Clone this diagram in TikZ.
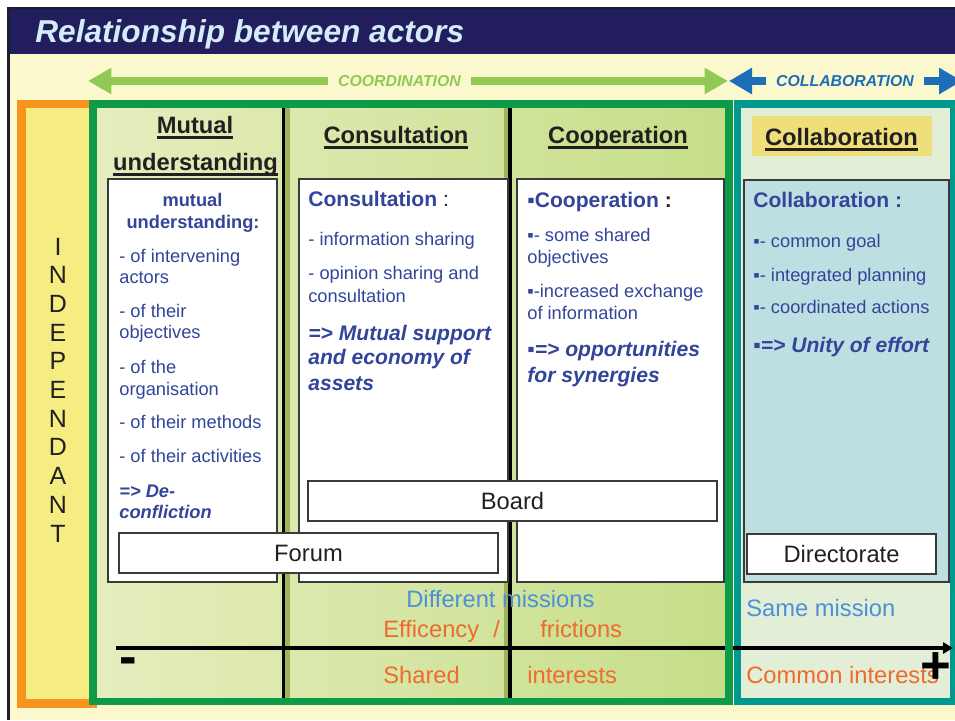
\documentclass[tikz,border=0pt]{standalone}
\usepackage{fontspec}
\setmainfont{Liberation Sans}
\usetikzlibrary{arrows.meta}

\definecolor{slideedge}{HTML}{1E1E2A}
\definecolor{navy}{HTML}{221E5E}
\definecolor{titletxt}{HTML}{D3ECF7}
\definecolor{cream}{HTML}{FBF8CE}
\definecolor{coordgreen}{HTML}{92C954}
\definecolor{collabblue}{HTML}{1D6EB9}
\definecolor{indorange}{HTML}{F7941E}
\definecolor{indyellow}{HTML}{F5ED82}
\definecolor{framegreen}{HTML}{0E9A49}
\definecolor{framelight}{HTML}{E6EDBE}
\definecolor{framedeep}{HTML}{C5DE88}
\definecolor{sepband}{HTML}{9DB35C}
\definecolor{collabteal}{HTML}{00988F}
\definecolor{collabpale}{HTML}{E2EED6}
\definecolor{bluebox}{HTML}{BDDFE1}
\definecolor{hdyellow}{HTML}{EEDF7B}
\definecolor{hdtxt}{HTML}{231F20}
\definecolor{boxedge}{HTML}{3A3A3A}
\definecolor{txtblue}{HTML}{33459A}
\definecolor{missionblue}{HTML}{4B90D8}
\definecolor{interestorange}{HTML}{F06A2C}

% underline at a fixed depth below the baseline
\newcommand\headul[1]{\setbox0\hbox{#1}\rlap{\rule[-3.4pt]{\wd0}{1.6pt}}\box0}

\tikzset{
  heading/.style={anchor=base, inner sep=0, text=hdtxt,
    font=\fontsize{13.5}{16}\selectfont\bfseries},
  bandlbl/.style={inner xsep=0.2cm, inner ysep=0,
    font=\fontsize{9}{11}\selectfont\bfseries\itshape},
  coordarr/.style={coordgreen, line width=4.5pt,
    -{Triangle[length=0.47cm,width=0.5cm]}},
  collabarr/.style={collabblue, line width=4.5pt,
    -{Triangle[length=0.46cm,width=0.5cm]}},
  indletter/.style={anchor=base, inner sep=0, text=hdtxt,
    font=\fontsize{14.2}{16}\selectfont},
  panel/.style={draw=boxedge, line width=0.6pt, fill=white},
  bodytxt/.style={anchor=base west, inner sep=0, text=txtblue,
    font=\fontsize{10.4}{12}\selectfont},
  boxhead/.style={bodytxt, font=\fontsize{12}{14}\selectfont\bfseries},
  punch/.style={bodytxt, font=\fontsize{12}{14}\selectfont\bfseries\itshape},
  lblbox/.style={draw=boxedge, line width=0.8pt, fill=white, inner sep=0,
    minimum height=0.8cm, text=hdtxt, font=\fontsize{13.5}{16}\selectfont},
  bottomtxt/.style={anchor=base west, inner sep=0,
    font=\fontsize{13.5}{16}\selectfont},
  axisline/.style={line width=2.2pt, -{Triangle[length=0.2cm,width=0.22cm]}},
  sign/.style={anchor=base, inner sep=0, font=\fontsize{30}{30}\selectfont\bfseries},
}

\begin{document}
\begin{tikzpicture}[x=0.02cm,y=-0.02cm]
\clip (0,0) rectangle (955,720);
\fill[white] (0,0) rectangle (955,720);
\fill[slideedge] (7,7) rectangle (955,720);
\fill[navy] (10,9) rectangle (955,54);
\fill[cream] (10,54) rectangle (955,720);
\node[anchor=base west, inner sep=0, text=titletxt,
  font=\fontsize{18}{22}\selectfont\bfseries\itshape] (title) at (35,42)
  {Relationship between actors};

% coordination / collaboration band
\coordinate (coordL) at (88,81);
\coordinate (coordR) at (728,81);
\node[bandlbl, text=coordgreen] (coordlbl) at (399.5,81) {COORDINATION};
\draw[coordarr] (coordlbl.west) -- (coordL);
\draw[coordarr] (coordlbl.east) -- (coordR);
\coordinate (collabL) at (729,81);
\coordinate (collabR) at (962,81);
\node[bandlbl, text=collabblue] (collablbl) at (845,81) {COLLABORATION};
\draw[collabarr] (collablbl.west) -- (collabL);
\draw[collabarr] (collablbl.east) -- (collabR);

% independant column
\draw[indorange, line width=4.8pt, fill=indyellow] (21.5,104) rectangle (93,703.5);
\foreach \c [count=\i] in {I,N,D,E,P,E,N,D,A,N,T}
  \node[indletter] (ind\i) at (58,{255+28.7*(\i-1)}) {\c};

% collaboration column
\draw[collabteal, line width=4pt, fill=collabpale] (737,104) rectangle (953,701.5);

% coordination columns
\shade[left color=framelight, right color=framedeep] (93,104) rectangle (729,701.5);
\foreach \x/\b in {283.5/287.5, 510/506} {
  \draw[sepband, line width=2.3pt] (\b,108) -- (\b,698);
  \draw[line width=2pt] (\x,108) -- (\x,698);
}
\foreach \l/\r in {108/277, 299/508, 517/724}
  \draw[panel] (\l,179) rectangle (\r,582);
\draw[panel, fill=bluebox] (744,180) rectangle (949,582);

% column headings
\node[heading] (mutualhd1) at (195,133) {\headul{Mutual}};
\node[heading] (mutualhd2) at (195.5,170) {\headul{understanding}};
\node[heading] (consulthd) at (396,143) {\headul{Consultation}};
\node[heading] (coophd) at (618,143) {\headul{Cooperation}};
\node[fill=hdyellow, minimum width=3.6cm, minimum height=0.8cm] (collabbg) at (842,136) {};
\node[heading] (collabhd) at (841.5,145) {\headul{Collaboration}};

% mutual understanding
\node[bodytxt, anchor=base, font=\fontsize{10.4}{12}\selectfont\bfseries] (mutualtxt1) at (192.5,206) {mutual};
\node[bodytxt, anchor=base, font=\fontsize{10.4}{12}\selectfont\bfseries] (mutualtxt2) at (193,228) {understanding:};
\foreach \y/\t [count=\i] in {262/- of intervening, 283/actors, 317/- of their,
    338/objectives, 373/- of the, 395/organisation, 428/- of their methods,
    462/- of their activities}
  \node[bodytxt] (mutual\i) at (119,\y) {\t};
\node[punch, font=\fontsize{10.4}{12}\selectfont\bfseries\itshape] (mutualend1) at (119,497) {=> De-};
\node[punch, font=\fontsize{10.4}{12}\selectfont\bfseries\itshape] (mutualend2) at (119,518) {confliction};

% consultation
\node[boxhead] (consulttxt) at (308,206) {Consultation~\textcolor{hdtxt}{\mdseries :}};
\foreach \y/\t [count=\i] in {245/- information sharing, 279/- opinion sharing and, 302/consultation}
  \node[bodytxt] (consult\i) at (308,\y) {\t};
\foreach \y/\t [count=\i] in {340/=> Mutual support, 364/and economy of, 390/assets}
  \node[punch] (consultend\i) at (308,\y) {\t};

% cooperation
\node[boxhead] (cooptxt) at (527,207) {▪Cooperation~\textcolor{hdtxt}{:}};
\foreach \y/\t [count=\i] in {241/▪- some shared, 263/objectives, 297/▪-increased exchange, 319/of information}
  \node[bodytxt] (coop\i) at (527,\y) {\t};
\foreach \y/\t [count=\i] in {356/▪=> opportunities, 382/for synergies}
  \node[punch] (coopend\i) at (527,\y) {\t};

% collaboration
\node[boxhead] (collabtxt) at (753,207) {Collaboration :};
\foreach \y/\t [count=\i] in {247/▪- common goal, 281/▪- integrated planning, 313/▪- coordinated actions}
  \node[bodytxt] (collab\i) at (753,\y) {\t};
\node[punch] (collabend) at (753,352) {▪=> Unity of effort};

% meeting bodies
\node[lblbox, minimum width=8.18cm] (board) at (512.5,501) {Board};
\node[lblbox, minimum width=7.58cm] (forum) at (308.5,553) {Forum};
\node[lblbox, minimum width=3.78cm] (directorate) at (841.5,554) {Directorate};

% scale of integration
\coordinate (axstart) at (116,648);
\coordinate (axend) at (953,648);
\draw[axisline] (axstart) -- (axend);
\draw[framegreen, line width=4.5pt] (93,104) rectangle (729,701.5);

\node[bottomtxt, text=missionblue] (diffmission) at (406,607) {Different missions};
\node[bottomtxt, text=interestorange] (efficiency) at (383,637) {Efficency};
\node[bottomtxt, text=interestorange] (slash) at (493,637) {/};
\node[bottomtxt, text=interestorange] (frictions) at (540,637) {frictions};
\node[bottomtxt, text=interestorange] (shared) at (383,683) {Shared};
\node[bottomtxt, text=interestorange] (interests) at (527,683) {interests};
\node[bottomtxt, text=missionblue] (samemission) at (746,616) {Same mission};
\node[bottomtxt, text=interestorange] (commoninterests) at (746,683) {Common interests};
\node[sign] (minus) at (128,674) {-};
\node[sign] (plus) at (936,683) {+};
\end{tikzpicture}
\end{document}
